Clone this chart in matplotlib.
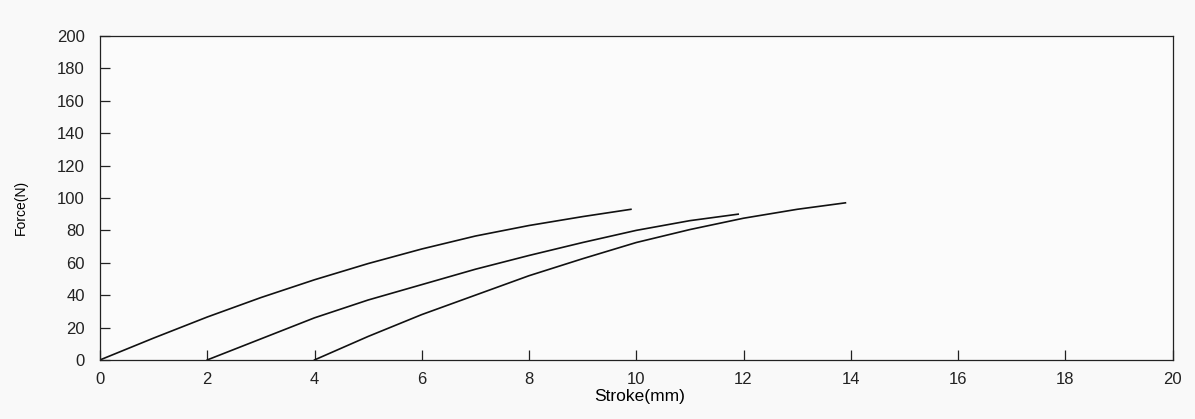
import matplotlib
matplotlib.use("Agg")
import matplotlib.pyplot as plt

plt.rcParams['font.family'] = ['Liberation Sans', 'DejaVu Sans']

# force-stroke curves for three spring tests (stroke in mm, force in N)
stroke_a = [0, 1, 2, 3, 4, 5, 6, 7, 8, 9, 9.9]
force_a = [0, 13.5, 26.5, 38.5, 49.5, 59.5, 68.5, 76.5, 83, 88.5, 93]

stroke_b = [2, 3, 4, 5, 6, 7, 8, 9, 10, 11, 11.9]
force_b = [0, 13, 26, 37, 46.5, 56, 64.5, 72.5, 80, 86, 90]

stroke_c = [4, 5, 6, 7, 8, 9, 10, 11, 12, 13, 13.9]
force_c = [0, 14.5, 28, 40, 52, 62.5, 72.5, 80.5, 87.5, 93, 97]

x_ticks = list(range(0, 21, 2))
y_ticks = list(range(0, 201, 20))

fig = plt.figure(figsize=(11.95, 4.19), dpi=100)
fig.patch.set_facecolor('#f9f9f9')
ax = fig.add_axes([0.0837, 0.141, 0.8975, 0.773])
ax.set_facecolor('#fbfbfb')

for s, f in [(stroke_a, force_a), (stroke_b, force_b), (stroke_c, force_c)]:
    ax.plot(s, f, color='#111111', lw=1.2)

ax.set_xlim(0, 20)
ax.set_ylim(0, 200)
ax.set_xticks(x_ticks)
ax.set_yticks(y_ticks)
ax.tick_params(direction='in', length=7, width=0.9, labelsize=12,
               colors='#222222', top=False, right=False)
ax.tick_params(axis='y', pad=11)
ax.tick_params(axis='x', pad=9)

for sp in ax.spines.values():
    sp.set_linewidth(0.9)
    sp.set_color('#222222')

ax.set_xlabel('Stroke(mm)', fontsize=12.5)
ax.set_ylabel('Force(N)', fontsize=10)
ax.xaxis.set_label_coords(0.503, -0.09)
ax.yaxis.set_label_coords(-0.067, 0.472)

fig.savefig('out.png', dpi=100, facecolor=fig.get_facecolor())
